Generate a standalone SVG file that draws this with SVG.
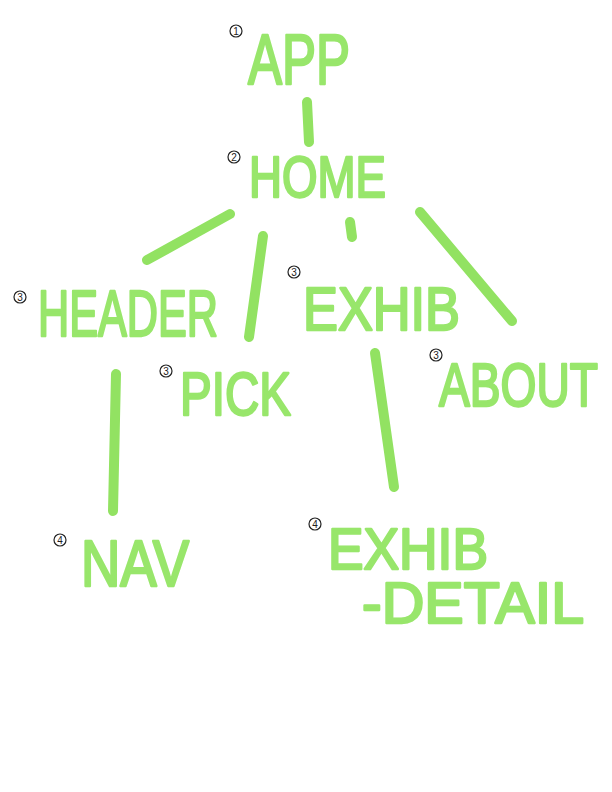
<svg xmlns="http://www.w3.org/2000/svg" width="612" height="792" viewBox="0 0 612 792">
<style>
.lbl{font-family:"Liberation Sans",Arial,sans-serif;fill:#98e66b;stroke:#98e66b;stroke-width:2.5;stroke-linejoin:round;stroke-linecap:round}
.num circle{fill:none;stroke:#222;stroke-width:1.2}
.num text{font-family:"Liberation Sans",Arial,sans-serif;font-size:10px;fill:#222;text-anchor:middle}
.edge{stroke:#92e262;stroke-width:10;stroke-linecap:round;fill:none}
</style>
<rect width="612" height="792" fill="#ffffff"/>
<g id="connectors">
<line class="edge" x1="307" y1="102" x2="309" y2="142"/>
<line class="edge" x1="230" y1="214" x2="147" y2="260"/>
<line class="edge" x1="263" y1="236" x2="249" y2="337"/>
<line class="edge" x1="350" y1="222" x2="352" y2="237"/>
<line class="edge" x1="420" y1="212" x2="512" y2="321"/>
<line class="edge" x1="116" y1="374" x2="113" y2="511"/>
<line class="edge" x1="375" y1="353" x2="394" y2="487"/>
</g>
<g id="app">
<g class="num"><circle cx="236" cy="31" r="6"/><text x="236" y="34.5">1</text></g>
<text class="lbl" x="248" y="84" font-size="70" textLength="102" lengthAdjust="spacingAndGlyphs">APP</text>
</g>
<g id="home">
<g class="num"><circle cx="234" cy="157" r="6"/><text x="234" y="160.5">2</text></g>
<text class="lbl" x="249" y="197" font-size="58" textLength="137" lengthAdjust="spacingAndGlyphs">HOME</text>
</g>
<g id="header">
<g class="num"><circle cx="20" cy="297" r="6"/><text x="20" y="300.5">3</text></g>
<text class="lbl" x="38" y="336" font-size="64" textLength="180" lengthAdjust="spacingAndGlyphs">HEADER</text>
</g>
<g id="exhib">
<g class="num"><circle cx="294" cy="272" r="6"/><text x="294" y="275.5">3</text></g>
<text class="lbl" x="303" y="330" font-size="62" textLength="157" lengthAdjust="spacingAndGlyphs">EXHIB</text>
</g>
<g id="pick">
<g class="num"><circle cx="166" cy="371" r="6"/><text x="166" y="374.5">3</text></g>
<text class="lbl" x="180" y="415" font-size="62" textLength="111" lengthAdjust="spacingAndGlyphs">PICK</text>
</g>
<g id="about">
<g class="num"><circle cx="436" cy="355" r="6"/><text x="436" y="358.5">3</text></g>
<text class="lbl" x="439" y="406" font-size="62" textLength="159" lengthAdjust="spacingAndGlyphs">ABOUT</text>
</g>
<g id="nav">
<g class="num"><circle cx="60" cy="540" r="6"/><text x="60" y="543.5">4</text></g>
<text class="lbl" x="81" y="586" font-size="64" textLength="108" lengthAdjust="spacingAndGlyphs">NAV</text>
</g>
<g id="exhib-detail">
<g class="num"><circle cx="315" cy="524" r="6"/><text x="315" y="527.5">4</text></g>
<text class="lbl" x="328" y="569" font-size="58" textLength="160" lengthAdjust="spacingAndGlyphs">EXHIB</text>
<text class="lbl" x="362" y="623" font-size="58" textLength="222" lengthAdjust="spacingAndGlyphs">-DETAIL</text>
</g>
</svg>
